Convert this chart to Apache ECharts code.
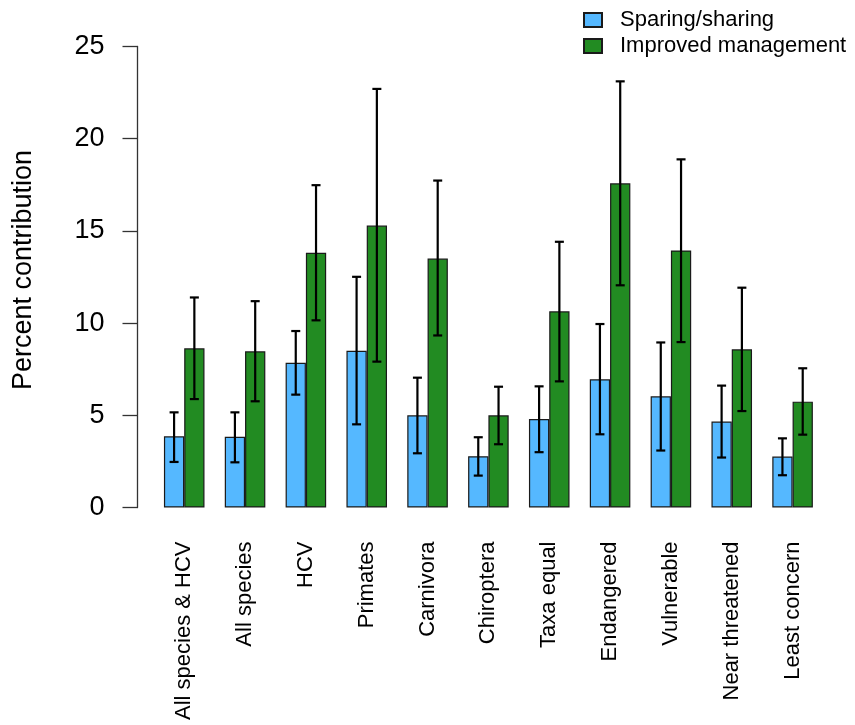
<!DOCTYPE html>
<html>
<head>
<meta charset="utf-8">
<script src="https://cdn.jsdelivr.net/npm/echarts@6/dist/echarts.min.js"></script>
<style>
  html, body { margin: 0; padding: 0; background: #fff; }
  #chart { width: 855px; height: 725px; }
</style>
</head>
<body>
<div id="chart"></div>
<script>
const categories = ['All species & HCV', 'All species', 'HCV', 'Primates', 'Carnivora', 'Chiroptera', 'Taxa equal', 'Endangered', 'Vulnerable', 'Near threatened', 'Least concern'];
const sparing = [3.86, 3.83, 7.85, 8.50, 5.00, 2.78, 4.80, 6.95, 6.03, 4.66, 2.76];
const sparingLow = [2.47, 2.45, 6.12, 4.51, 2.94, 1.73, 3.00, 3.97, 3.09, 2.71, 1.75];
const sparingHigh = [5.16, 5.16, 9.57, 12.51, 7.04, 3.81, 6.57, 9.95, 8.95, 6.61, 3.75];
const improved = [8.63, 8.47, 13.81, 15.29, 13.50, 5.00, 10.64, 17.58, 13.94, 8.58, 5.74];
const improvedLow = [5.88, 5.76, 10.15, 7.91, 9.33, 3.43, 6.84, 12.05, 8.97, 5.23, 3.95];
const improvedHigh = [11.39, 11.19, 17.48, 22.70, 17.73, 6.55, 14.41, 23.11, 18.88, 11.92, 7.55];
const yTicks = [0, 5, 10, 15, 20, 25];

const FONT = "'Liberation Sans', Arial, sans-serif";

function errorSeries(low, high, shift) {
  return {
    type: 'custom',
    z: 10,
    silent: true,
    renderItem: function (params, api) {
      const idx = api.value(0);
      const bw = api.size([1, 0])[0];
      const pLo = api.coord([idx, api.value(1)]);
      const pHi = api.coord([idx, api.value(2)]);
      const x = pLo[0] + shift * bw / 6;
      const cap = 4.5;
      const st = { stroke: '#000', lineWidth: 2.2 };
      return {
        type: 'group',
        children: [
          { type: 'line', shape: { x1: x, y1: pLo[1], x2: x, y2: pHi[1] }, style: st },
          { type: 'line', shape: { x1: x - cap, y1: pLo[1], x2: x + cap, y2: pLo[1] }, style: st },
          { type: 'line', shape: { x1: x - cap, y1: pHi[1], x2: x + cap, y2: pHi[1] }, style: st }
        ]
      };
    },
    encode: { x: 0, y: [1, 2] },
    data: categories.map((c, i) => [i, low[i], high[i]])
  };
}

const chart = echarts.init(document.getElementById('chart'), null, { renderer: 'canvas' });
chart.setOption({
  animation: false,
  backgroundColor: '#fff',
  textStyle: { fontFamily: FONT },
  grid: { left: 153.8, right: 32, top: 46.5, bottom: 217.5, containLabel: false },
  legend: {
    orient: 'vertical',
    left: 583,
    top: 9,
    padding: 0,
    icon: 'rect',
    itemWidth: 18,
    itemHeight: 14,
    itemGap: 4,
    data: ['Sparing/sharing', 'Improved management'],
    textStyle: { fontSize: 22, color: '#000', fontFamily: FONT, lineHeight: 22, padding: [0, 0, 0, 13] }
  },
  graphic: [{
    type: 'text',
    x: 24,
    y: 270,
    rotation: Math.PI / 2,
    style: {
      text: 'Percent contribution',
      fontSize: 27,
      fontFamily: FONT,
      fill: '#000',
      align: 'center',
      verticalAlign: 'middle'
    }
  }],
  xAxis: {
    type: 'category',
    data: categories,
    axisLine: { show: false },
    axisTick: { show: false },
    splitLine: { show: false },
    axisLabel: { rotate: 90, margin: 34, fontSize: 22, color: '#000', fontFamily: FONT, interval: 0 }
  },
  yAxis: {
    type: 'value',
    min: yTicks[0],
    max: yTicks[yTicks.length - 1],
    interval: 5,
    offset: 16.3,
    splitLine: { show: false },
    axisLine: { show: true, lineStyle: { color: '#333', width: 1.3 } },
    axisTick: { show: true, length: 15, lineStyle: { color: '#333', width: 1.3 } },
    axisLabel: { margin: 33, fontSize: 27, color: '#000', fontFamily: FONT }
  },
  series: [
    {
      name: 'Sparing/sharing',
      type: 'bar',
      data: sparing,
      barGap: '0%',
      barCategoryGap: '33.33%',
      itemStyle: { color: '#55B8FF', borderColor: '#1a1a1a', borderWidth: 1.2 }
    },
    {
      name: 'Improved management',
      type: 'bar',
      data: improved,
      barGap: '0%',
      barCategoryGap: '33.33%',
      itemStyle: { color: '#228B22', borderColor: '#1a1a1a', borderWidth: 1.2 }
    },
    errorSeries(sparingLow, sparingHigh, -1),
    errorSeries(improvedLow, improvedHigh, 1)
  ]
});
</script>
</body>
</html>
